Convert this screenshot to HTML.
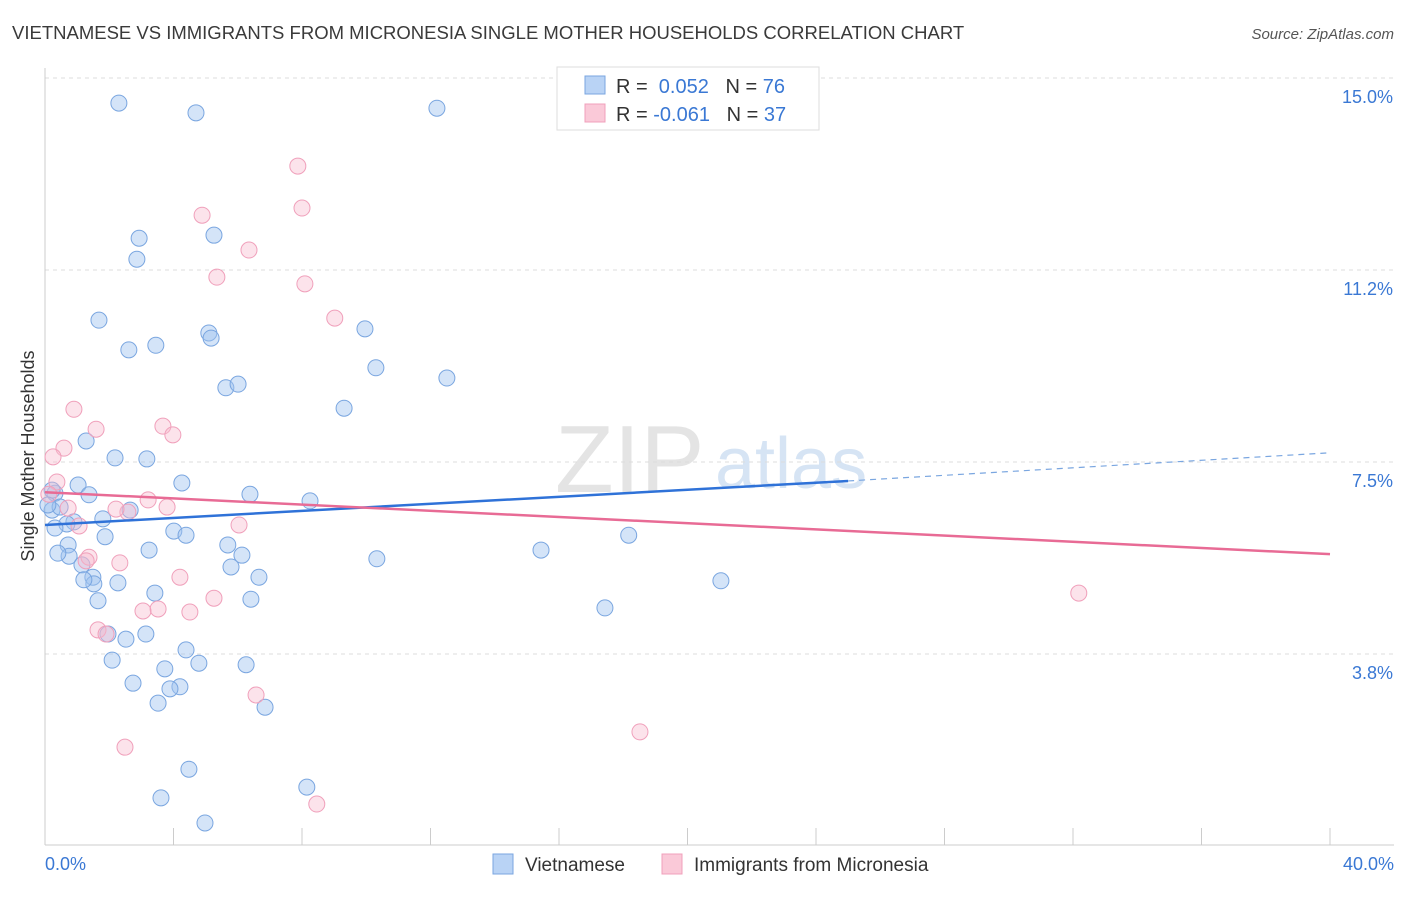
<!DOCTYPE html>
<html><head><meta charset="utf-8"><style>
body{margin:0;background:#fff;font-family:"Liberation Sans",sans-serif;}
svg text{font-family:"Liberation Sans",sans-serif;}
</style></head><body>
<svg id="chart" width="1406" height="892" xmlns="http://www.w3.org/2000/svg">
<text x="12" y="39" font-size="18.5" fill="#3a3a3a">VIETNAMESE VS IMMIGRANTS FROM MICRONESIA SINGLE MOTHER HOUSEHOLDS CORRELATION CHART</text>
<text x="1394" y="39" font-size="15" fill="#555" text-anchor="end" font-style="italic">Source: ZipAtlas.com</text>
<text x="555" y="492" font-size="96" fill="#e4e4e4" font-family="Liberation Serif">ZIP</text>
<text x="715" y="488" font-size="72" fill="#d6e4f4">atlas</text>
<g id="grid"></g>
<g id="axes"></g>
<g id="points"></g>
<g id="trends"></g>
<text transform="translate(34,456) rotate(-90)" font-size="18" fill="#333" text-anchor="middle">Single Mother Households</text>
<g>
<rect x="557" y="67" width="262" height="63" fill="#fff" stroke="#ddd"/>
<rect x="585" y="76" width="20" height="18" fill="#b9d3f5" stroke="#7aa6e0"/>
<rect x="585" y="104" width="20" height="18" fill="#fac9d8" stroke="#f0a0bb"/>
<text x="616" y="93" font-size="20" fill="#333">R = <tspan fill="#3a78d4">&#160;0.052</tspan>&#160;&#160;&#160;N = <tspan fill="#3a78d4">76</tspan></text>
<text x="616" y="121" font-size="20" fill="#333">R = <tspan fill="#3a78d4">-0.061</tspan>&#160;&#160;&#160;N = <tspan fill="#3a78d4">37</tspan></text>
</g>
<g>
<rect x="493" y="854" width="20" height="20" fill="#b9d3f5" stroke="#7aa6e0"/>
<text x="525" y="871" font-size="19" fill="#333">Vietnamese</text>
<rect x="662" y="854" width="20" height="20" fill="#fac9d8" stroke="#f0a0bb"/>
<text x="694" y="871" font-size="19" fill="#333">Immigrants from Micronesia</text>
</g>
</svg>
<script>
const xTicks=[0,4,8,12,16,20,24,28,32,36,40];
const yTickVals=[3.8,7.5,11.2,15.0];
const yTickLabels=["3.8%","7.5%","11.2%","15.0%"];
const blueX=[2.30,4.70,12.20,2.93,2.86,5.26,1.68,2.61,3.45,5.10,5.17,9.96,10.30,12.51,5.63,6.01,9.31,1.28,2.18,3.17,4.26,1.03,1.37,6.38,8.25,0.31,0.22,0.47,2.65,1.80,0.90,0.68,0.31,1.87,4.01,4.39,5.69,3.24,6.13,10.33,15.44,18.17,0.72,0.75,0.40,1.15,1.49,1.52,1.21,2.27,6.66,5.79,3.42,6.41,1.65,17.43,21.04,1.96,3.14,2.52,2.09,4.39,4.79,3.73,6.26,2.74,4.20,3.89,3.52,6.85,4.48,3.61,8.15,4.98,0.22,0.09];
const blueY=[14.51,14.32,14.41,11.87,11.46,11.93,10.27,9.69,9.78,10.02,9.92,10.10,9.34,9.14,8.95,9.02,8.55,7.91,7.58,7.56,7.09,7.05,6.86,6.87,6.74,6.89,6.56,6.62,6.56,6.39,6.33,6.29,6.21,6.04,6.15,6.07,5.88,5.78,5.68,5.61,5.78,6.07,5.88,5.66,5.72,5.49,5.25,5.12,5.20,5.14,5.25,5.45,4.94,4.82,4.79,4.65,5.18,4.14,4.14,4.04,3.63,3.83,3.57,3.46,3.54,3.18,3.11,3.07,2.79,2.71,1.50,0.94,1.15,0.45,6.95,6.66];
const pinkX=[7.87,8.00,4.89,6.35,5.35,8.09,9.02,0.90,0.59,0.25,1.59,3.67,3.98,0.37,0.12,0.72,1.06,3.21,2.58,3.80,6.04,2.21,1.37,1.28,2.33,4.20,5.26,3.52,3.05,4.51,1.65,1.90,6.57,2.49,18.52,8.46,32.18];
const pinkY=[13.28,12.46,12.32,11.64,11.11,10.98,10.31,8.53,7.77,7.60,8.14,8.20,8.03,7.11,6.87,6.60,6.25,6.76,6.52,6.62,6.27,6.58,5.64,5.57,5.53,5.25,4.84,4.63,4.59,4.57,4.22,4.14,2.95,1.93,2.23,0.82,4.94];
const blueTrend=[6.27,7.13,7.68]; // at x=0,25,40
const pinkTrend=[6.91,5.70]; // at x=0,40
const NS="http://www.w3.org/2000/svg";
const X=v=>45+v*32.125;
const Y=v=>654-(v-3.75)*51.2;
function mk(tag,attrs,parent){const e=document.createElementNS(NS,tag);for(const k in attrs)e.setAttribute(k,attrs[k]);parent.appendChild(e);return e;}
const grid=document.getElementById('grid'),axes=document.getElementById('axes'),pts=document.getElementById('points'),tr=document.getElementById('trends');
const gridVals=[3.75,7.5,11.25,15.0];
gridVals.forEach((g,i)=>{
 const l=mk('line',{x1:45,x2:1394,y1:Y(g),y2:Y(g),stroke:'#dcdcdc','stroke-dasharray':'4,4'},grid);
 
 
 const t=mk('text',{x:1393,y:Y(g)+25,'font-size':18,fill:'#3a78d4','text-anchor':'end'},axes);
 t.textContent=yTickLabels[i];
 
 
});
const ax=mk('line',{x1:45,x2:45,y1:68,y2:845,stroke:'#ccc'},axes);


const bx=mk('line',{x1:45,x2:1394,y1:845,y2:845,stroke:'#ccc'},axes);


xTicks.forEach(v=>{
 const l=mk('line',{x1:X(v),x2:X(v),y1:828,y2:845,stroke:'#ccc'},axes);
 
 
});
[[0,'0.0%','start',45],[40,'40.0%','end',1394]].forEach(a=>{
 const t=mk('text',{x:a[3],y:870,'font-size':18,fill:'#3a78d4','text-anchor':a[2]},axes);
 t.textContent=a[1];
 
 
});
blueX.forEach((v,i)=>{
 const c=mk('circle',{cx:X(v),cy:Y(blueY[i]),r:8,fill:'rgba(160,195,240,0.45)',stroke:'#7aa6e0','stroke-width':1},pts);
 
 
});
pinkX.forEach((v,i)=>{
 const c=mk('circle',{cx:X(v),cy:Y(pinkY[i]),r:8,fill:'rgba(248,185,205,0.4)',stroke:'#f0a0bb','stroke-width':1},pts);
 
 
});
const b1=mk('line',{x1:X(0),y1:Y(blueTrend[0]),x2:X(25),y2:Y(blueTrend[1]),stroke:'#2f72d8','stroke-width':2.5},tr);


const b2=mk('line',{x1:X(25),y1:Y(blueTrend[1]),x2:X(40),y2:Y(blueTrend[2]),stroke:'#7aa6e0','stroke-width':1.2,'stroke-dasharray':'6,5'},tr);


const p1=mk('line',{x1:X(0),y1:Y(pinkTrend[0]),x2:X(40),y2:Y(pinkTrend[1]),stroke:'#e86b95','stroke-width':2.5},tr);


</script>
</body></html>
